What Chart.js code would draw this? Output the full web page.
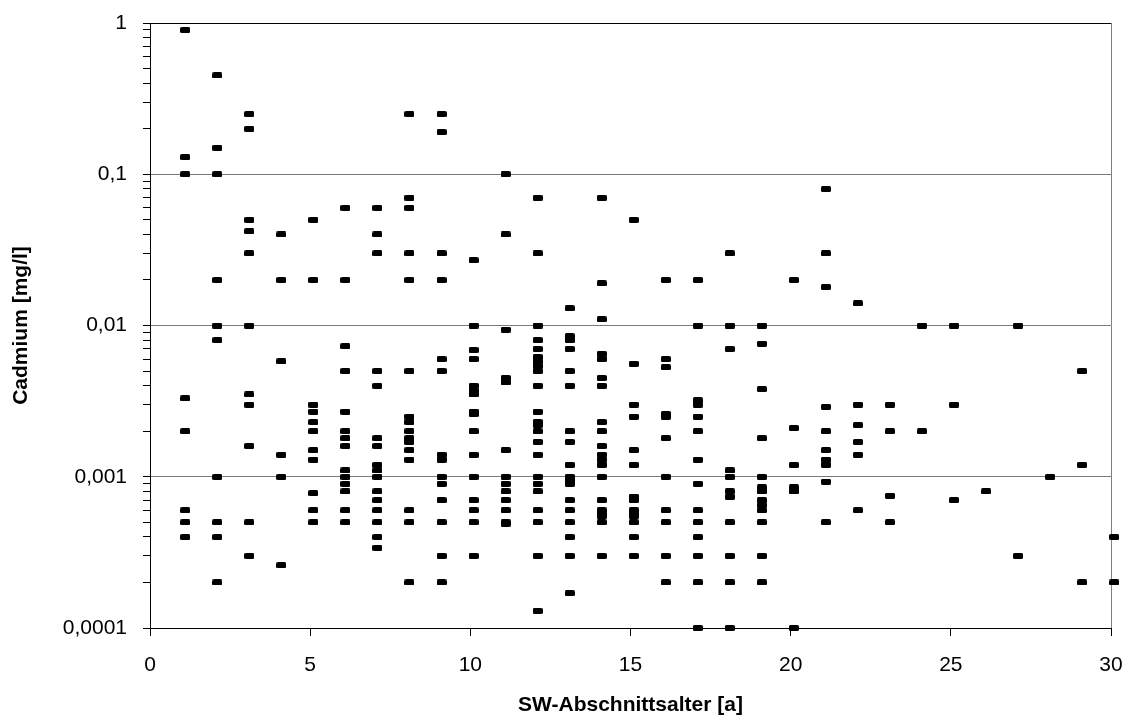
<!DOCTYPE html>
<html>
<head>
<meta charset="utf-8">
<script src="https://cdn.jsdelivr.net/npm/chart.js@4/dist/chart.umd.min.js"></script>
<style>
    body { margin: 0; background: #fff; }
    #wrap { width: 1130px; height: 726px; }
</style>
</head>
<body>
<div id="wrap"><canvas id="cadmiumChart" width="1130" height="726"></canvas></div>
<script>
// SW-Abschnittsalter [a] – one column of measurements per age
const ages = [1.1, 2.1, 3.1, 4.1, 5.1, 6.1, 7.1, 8.1, 9.1, 10.1,
              11.1, 12.1, 13.1, 14.1, 15.1, 16.1, 17.1, 18.1, 19.1, 20.1,
              21.1, 22.1, 23.1, 24.1, 25.1, 26.1, 27.1, 28.1, 29.1, 30.1];

// Cadmium [mg/l]
const cadmiumByAge = [
    [0.9, 0.13, 0.1, 0.0033, 0.002, 0.0006, 0.0005, 0.0004],
    [0.45, 0.15, 0.1, 0.02, 0.01, 0.008, 0.001, 0.0005, 0.0004, 0.0002],
    [0.25, 0.2, 0.05, 0.042, 0.03, 0.01, 0.0035, 0.003, 0.0016, 0.0005, 0.0003],
    [0.04, 0.02, 0.0058, 0.0014, 0.001, 0.00026],
    [0.05, 0.02, 0.003, 0.0027, 0.0023, 0.002, 0.0015, 0.0013, 0.00078, 0.0006, 0.0005],
    [0.06, 0.02, 0.0073, 0.005, 0.0027, 0.002, 0.0018, 0.0016, 0.0011, 0.001, 0.0009, 0.0008, 0.0006, 0.0005],
    [0.06, 0.04, 0.03, 0.005, 0.004, 0.0018, 0.0016, 0.0012, 0.0011, 0.001, 0.0008, 0.0007, 0.0006, 0.0005, 0.0004, 0.00034],
    [0.25, 0.07, 0.06, 0.03, 0.02, 0.005, 0.0025, 0.0023, 0.002, 0.0018, 0.0017, 0.0015, 0.0013, 0.0006, 0.0005, 0.0002],
    [0.25, 0.19, 0.03, 0.02, 0.006, 0.005, 0.0014, 0.0013, 0.001, 0.0009, 0.0007, 0.0005, 0.0003, 0.0002],
    [0.027, 0.01, 0.0069, 0.006, 0.004, 0.0037, 0.0035, 0.0027, 0.0026, 0.002, 0.0014, 0.001, 0.0007, 0.0006, 0.0005, 0.0003],
    [0.1, 0.04, 0.0094, 0.0045, 0.0042, 0.0015, 0.001, 0.0009, 0.0008, 0.0007, 0.0006, 0.0005, 0.00049],
    [0.07, 0.03, 0.01, 0.008, 0.007, 0.0062, 0.0058, 0.0054, 0.005, 0.004, 0.0027, 0.0023, 0.0022, 0.002, 0.0017, 0.0014, 0.001, 0.0009, 0.0008, 0.0006, 0.0005, 0.0003, 0.00013],
    [0.013, 0.0085, 0.008, 0.007, 0.005, 0.004, 0.002, 0.0017, 0.0012, 0.001, 0.00095, 0.0009, 0.0007, 0.0006, 0.0005, 0.0004, 0.0003, 0.00017],
    [0.07, 0.019, 0.011, 0.0065, 0.006, 0.0045, 0.004, 0.0023, 0.002, 0.0016, 0.0014, 0.0013, 0.0012, 0.001, 0.0007, 0.0006, 0.00057, 0.00055, 0.0005, 0.0003],
    [0.05, 0.0056, 0.003, 0.0025, 0.0015, 0.0012, 0.00074, 0.0007, 0.0006, 0.00057, 0.00055, 0.0005, 0.0004, 0.0003],
    [0.02, 0.006, 0.0053, 0.0026, 0.0025, 0.0018, 0.001, 0.0006, 0.0005, 0.0003, 0.0002],
    [0.02, 0.01, 0.0032, 0.003, 0.0025, 0.002, 0.0013, 0.0009, 0.0006, 0.0005, 0.0004, 0.0003, 0.0002, 0.0001],
    [0.03, 0.01, 0.007, 0.0011, 0.001, 0.0008, 0.00074, 0.0005, 0.0003, 0.0002, 0.0001],
    [0.01, 0.0076, 0.0038, 0.0018, 0.001, 0.00085, 0.0008, 0.0007, 0.00065, 0.0006, 0.0005, 0.0003, 0.0002],
    [0.02, 0.0021, 0.0012, 0.00085, 0.0008, 0.0001],
    [0.08, 0.03, 0.018, 0.0029, 0.002, 0.0015, 0.0013, 0.0012, 0.00093, 0.0005],
    [0.014, 0.003, 0.0022, 0.0017, 0.0014, 0.0006],
    [0.003, 0.002, 0.00075, 0.0005],
    [0.01, 0.002],
    [0.01, 0.003, 0.0007],
    [0.0008],
    [0.01, 0.0003],
    [0.001],
    [0.005, 0.0012, 0.0002],
    [0.0004, 0.0002]
];

// axis ticks
const xTicks = [0, 5, 10, 15, 20, 25, 30];
const yDecades = [0.0001, 0.001, 0.01, 0.1, 1];
const yMinorSteps = [2, 3, 4, 5, 6, 7, 8, 9];

document.addEventListener('DOMContentLoaded', () => {
    const ctx = document.getElementById('cadmiumChart').getContext('2d');

    // small flat dash used as marker
    const dash = document.createElement('canvas');
    dash.width = 10;
    dash.height = 6;
    const dctx = dash.getContext('2d');
    dctx.fillStyle = '#000';
    dctx.beginPath();
    dctx.roundRect(0, 0, 10, 6, 1.5);
    dctx.fill();

    // newest ages first, so the chart does not treat the data as x-sorted
    // and skip the column sitting just right of the axis end
    const points = [];
    for (let i = ages.length - 1; i >= 0; i--) {
        cadmiumByAge[i].forEach(v => points.push({ x: ages[i], y: v }));
    }

    const isDecade = v => {
        const e = Math.log10(v);
        return Math.abs(e - Math.round(e)) < 1e-9;
    };

    const tickFont = { family: 'Liberation Sans, Arial, sans-serif', size: 21 };
    const titleFont = { family: 'Liberation Sans, Arial, sans-serif', size: 21, weight: 'bold' };

    // top edge of the plot frame is black
    const frameTop = {
        id: 'frameTop',
        afterDraw(chart) {
            const a = chart.chartArea;
            const c = chart.ctx;
            c.save();
            c.strokeStyle = '#000';
            c.lineWidth = 1;
            c.beginPath();
            c.moveTo(a.left, Math.round(a.top) + 0.5);
            c.lineTo(a.right, Math.round(a.top) + 0.5);
            c.stroke();
            c.restore();
        }
    };

    new Chart(ctx, {
        type: 'scatter',
        data: {
            datasets: [{
                label: 'Cadmium',
                data: points,
                pointStyle: dash,
                clip: false
            }]
        },
        options: {
            responsive: false,
            animation: false,
            events: [],
            layout: { autoPadding: false, padding: { top: 23, right: 19, left: 0, bottom: 0 } },
            plugins: {
                legend: { display: false },
                tooltip: { enabled: false }
            },
            scales: {
                x: {
                    type: 'linear',
                    min: 0,
                    max: 30,
                    // fixed axis band; label overhang is handled by layout padding
                    afterFit: s => {
                        s.height = 98;
                        s.paddingLeft = 0;
                        s.paddingRight = 0;
                    },
                    afterBuildTicks: s => { s.ticks = xTicks.map(v => ({ value: v })); },
                    border: { color: '#000', width: 1 },
                    grid: {
                        drawOnChartArea: true,
                        color: c => (c.tick && c.tick.value === 30) ? '#808080' : 'rgba(0,0,0,0)',
                        tickColor: '#000',
                        tickLength: 8
                    },
                    ticks: {
                        color: '#000',
                        font: tickFont,
                        padding: 17,
                        maxRotation: 0,
                        autoSkip: false
                    },
                    title: {
                        display: true,
                        text: 'SW-Abschnittsalter [a]',
                        color: '#000',
                        font: titleFont,
                        padding: { top: 0, bottom: 8 }
                    }
                },
                y: {
                    type: 'logarithmic',
                    min: 0.0001,
                    max: 1,
                    afterFit: s => {
                        s.width = 150;
                        s.paddingTop = 0;
                        s.paddingBottom = 0;
                    },
                    afterBuildTicks: s => {
                        const t = [];
                        yDecades.forEach(d => {
                            t.push({ value: d });
                            if (d < 1) yMinorSteps.forEach(m => t.push({ value: d * m }));
                        });
                        s.ticks = t;
                    },
                    border: { color: '#000', width: 1 },
                    grid: {
                        color: c => {
                            if (!c.tick || !isDecade(c.tick.value)) return 'rgba(0,0,0,0)';
                            return c.tick.value === 1 ? '#000' : '#7a7a7a';
                        },
                        tickColor: '#000',
                        tickLength: 7
                    },
                    ticks: {
                        color: '#000',
                        font: tickFont,
                        padding: 16,
                        autoSkip: false,
                        callback: v => isDecade(v) ? String(v).replace('.', ',') : ''
                    },
                    title: {
                        display: true,
                        text: 'Cadmium [mg/l]',
                        color: '#000',
                        font: titleFont,
                        padding: { top: 9, bottom: 0 }
                    }
                }
            }
        },
        plugins: [frameTop]
    });
});
</script>
</body>
</html>
